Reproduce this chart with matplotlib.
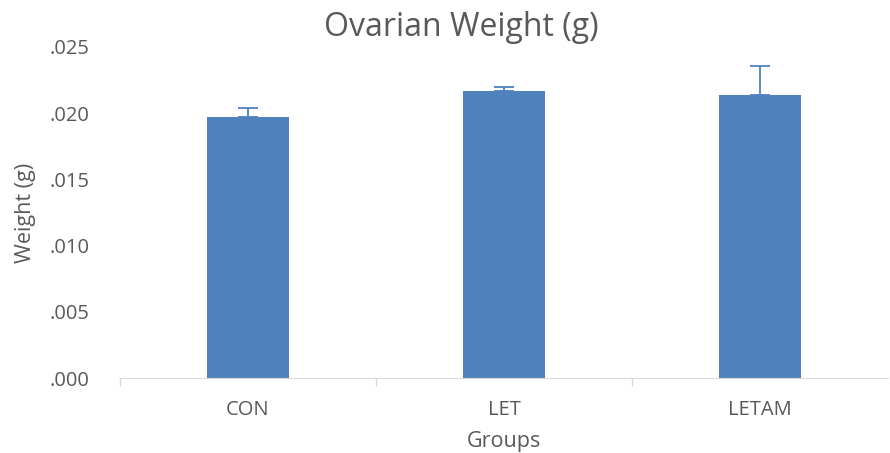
import matplotlib.pyplot as plt
from matplotlib.ticker import FixedLocator, FuncFormatter

# Données
groups = ["CON", "LET", "LETAM"]
weights = [0.01969, 0.02169, 0.02135]
errors = [0.00071, 0.00030, 0.00222]
y_ticks = [0.000, 0.005, 0.010, 0.015, 0.020, 0.025]

bar_color = "#4F81BD"
text_color = "#595959"
plt.rcParams['font.family'] = ['Open Sans', 'DejaVu Sans']

fig = plt.figure(figsize=(8.9, 4.53), dpi=100)
ax = fig.add_axes([120 / 890, 1 - 378 / 453, 768 / 890, (378 - 47) / 453])

x = list(range(len(groups)))
ax.bar(x, weights, width=0.32, color=bar_color, zorder=2)
ax.errorbar(x, weights, yerr=[[0] * len(errors), errors], fmt="none",
            ecolor=bar_color, elinewidth=1.3, capsize=7, capthick=1.3, zorder=3)

ax.set_xlim(-0.5, 2.5)
ax.set_ylim(0, 0.025)
ax.set_yticks(y_ticks)
ax.yaxis.set_major_formatter(FuncFormatter(lambda v, p: f"{v:.3f}".lstrip("0")))
ax.tick_params(axis="y", length=0, pad=22, labelsize=14.5, labelcolor=text_color)

# Ticks entre les catégories (style Excel)
ax.set_xticks(x)
ax.set_xticklabels(groups)
ax.xaxis.set_minor_locator(FixedLocator([-0.5, 0.5, 1.5]))
ax.tick_params(axis="x", which="major", length=0, pad=16, labelsize=14.5, labelcolor=text_color)
ax.tick_params(axis="x", which="minor", length=6, color="#D9D9D9", width=1)

for side in ["top", "right", "left"]:
    ax.spines[side].set_visible(False)
ax.spines["bottom"].set_color("#D9D9D9")

# Titre centré sur la figure, pas sur les axes
ax.set_title("Ovarian Weight (g)", fontsize=23, color=text_color, pad=8, x=0.444)
ax.set_xlabel("Groups", fontsize=15.5, color=text_color, labelpad=8)
ax.set_ylabel("Weight (g)", fontsize=15.5, color=text_color, labelpad=10)

fig.savefig("out.png", dpi=100)
